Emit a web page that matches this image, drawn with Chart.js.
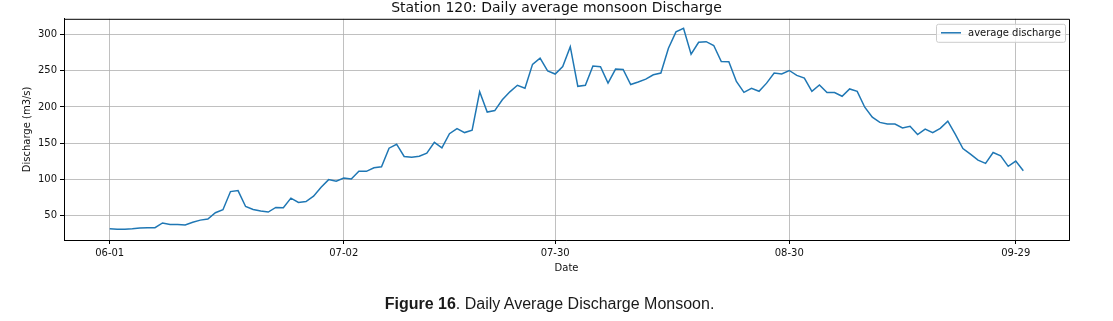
<!DOCTYPE html>
<html>
<head>
<meta charset="utf-8">
<script src="https://cdn.jsdelivr.net/npm/chart.js@4.4.0/dist/chart.umd.min.js"></script>
<style>
  html, body { margin: 0; padding: 0; background: #fff; }
  #wrap { position: relative; width: 1113px; height: 321px; }
  #chart { position: absolute; left: 0; top: 0; }
  #caption {
    position: absolute; left: -7px; top: 295px; width: 1113px; text-align: center;
    font-family: "Liberation Sans", Arial, sans-serif; font-size: 16px; color: #1a1a1a;
  }
</style>
</head>
<body>
<div id="wrap">
  <canvas id="chart" width="1113" height="321"></canvas>
  <div id="caption"><b>Figure 16</b>. Daily Average Discharge Monsoon.</div>
</div>
<script>
// daily average discharge (m3/s), one value per day from 06-01 to 09-30
const discharge = [
  31.5, 30.8, 31, 31.5, 32.7, 33, 33, 39.6, 37.6, 37.6,
  36.8, 40.5, 43.5, 45, 53.7, 57.8, 83, 84.3, 62.4, 58.3,
  56, 54.7, 61, 60.6, 73.9, 67.9, 69.2, 76.6, 89, 99.5,
  97.2, 101.8, 100.4, 111, 111, 116, 117.3, 143, 148.5, 131.6,
  130.6, 132, 136, 151, 143.4, 163, 170, 164.6, 168, 221,
  193, 195, 210, 221, 230, 226, 259, 267.6, 250, 245.6,
  256, 283.5, 228.6, 230, 256.6, 255.6, 233, 252.5, 252, 231,
  234.6, 238.5, 244.6, 247, 281.3, 304, 308.8, 273, 289.5, 290.4,
  285, 263, 262.5, 235.4, 220.3, 225.8, 221.7, 233, 247, 245.6,
  250.5, 243.7, 240, 221.7, 230.5, 220, 220, 214.8, 225, 221.7,
  199.7, 186, 178.7, 176.4, 176.4, 170.9, 173.4, 161.8, 169.5, 164.6,
  170.5, 180.5, 162.2, 142.6, 134.8, 126.5, 122, 137, 132.4, 117.9,
  125.1, 111.8
];

// x tick positions (days after 06-01) and their labels
const tickDays = [0, 31, 59, 90, 120];
const tickLabels = ['06-01', '07-02', '07-30', '08-30', '09-29'];
const yTicks = [50, 100, 150, 200, 250, 300];

const points = discharge.map((v, i) => ({ x: i, y: v }));

const FONT = 'DejaVu Sans, sans-serif';
const TEXT = '#111';
const GRID = '#b0b0b0';

// matplotlib style box: top and right spines + legend inside the axes
const framePlugin = {
  id: 'frame',
  afterDraw(chart) {
    const { ctx, chartArea: a } = chart;
    ctx.save();
    ctx.strokeStyle = '#000';
    ctx.lineWidth = 1;
    ctx.beginPath();
    ctx.moveTo(a.left, a.top + 0.5);
    ctx.lineTo(a.right + 0.5, a.top + 0.5);
    ctx.lineTo(a.right + 0.5, a.bottom);
    ctx.stroke();

    // legend
    const bx = a.right - 133, by = a.top + 5, bw = 129, bh = 18;
    ctx.fillStyle = 'rgba(255,255,255,0.8)';
    ctx.strokeStyle = '#cccccc';
    ctx.beginPath();
    ctx.roundRect(bx + 0.5, by + 0.5, bw, bh, 2);
    ctx.fill();
    ctx.stroke();
    ctx.strokeStyle = '#1f77b4';
    ctx.lineWidth = 1.5;
    ctx.beginPath();
    ctx.moveTo(bx + 5, by + 9);
    ctx.lineTo(bx + 25, by + 9);
    ctx.stroke();
    ctx.fillStyle = TEXT;
    ctx.font = '10px ' + FONT;
    ctx.textBaseline = 'middle';
    ctx.fillText(chart.data.datasets[0].label, bx + 32, by + 9.5);
    ctx.restore();
  }
};

new Chart(document.getElementById('chart'), {
  type: 'line',
  data: {
    datasets: [{
      label: 'average discharge',
      data: points,
      borderColor: '#1f77b4',
      borderWidth: 1.5,
      pointRadius: 0,
      tension: 0,
      fill: false
    }]
  },
  options: {
    responsive: false,
    animation: false,
    devicePixelRatio: 1,
    layout: { padding: { top: 0, right: 0, bottom: 40, left: 0 } },
    plugins: {
      legend: { display: false },
      tooltip: { enabled: false },
      title: {
        display: true,
        fullSize: true,
        text: 'Station 120: Daily average monsoon Discharge',
        color: TEXT,
        font: { family: FONT, size: 14, weight: 'normal' },
        padding: { top: 0, bottom: 2 }
      }
    },
    scales: {
      x: {
        type: 'linear',
        min: -6.05,
        max: 127.05,
        afterBuildTicks(scale) { scale.ticks = tickDays.map(v => ({ value: v })); },
        afterFit(scale) { scale.height = 41; },
        ticks: {
          autoSkip: false, maxRotation: 0, color: TEXT, padding: 3,
          font: { family: FONT, size: 10 },
          callback: (v) => tickLabels[tickDays.indexOf(v)]
        },
        grid: { color: GRID, lineWidth: 0.8, tickColor: '#000', tickLength: 4, tickWidth: 1 },
        border: { color: '#000', width: 1 },
        title: {
          display: true, text: 'Date', color: TEXT,
          font: { family: FONT, size: 10 }, padding: { top: 0, bottom: 7 }
        }
      },
      y: {
        min: 16,
        max: 322,
        afterBuildTicks(scale) { scale.ticks = yTicks.map(v => ({ value: v })); },
        afterFit(scale) { scale.width = 64; },
        ticks: { color: TEXT, padding: 3, font: { family: FONT, size: 10 } },
        grid: { color: GRID, lineWidth: 0.8, tickColor: '#000', tickLength: 4, tickWidth: 1 },
        border: { color: '#000', width: 1 },
        title: {
          display: true, text: 'Discharge (m3/s)', color: TEXT,
          font: { family: FONT, size: 10 }, padding: { top: 21, bottom: 0 }
        }
      },
      // empty right-hand margin so the title stays centred on the figure
      yRight: {
        position: 'right',
        min: 16,
        max: 322,
        afterFit(scale) { scale.width = 44; },
        ticks: { display: false },
        grid: { display: false },
        border: { display: false }
      }
    }
  },
  plugins: [framePlugin]
});
</script>
</body>
</html>
